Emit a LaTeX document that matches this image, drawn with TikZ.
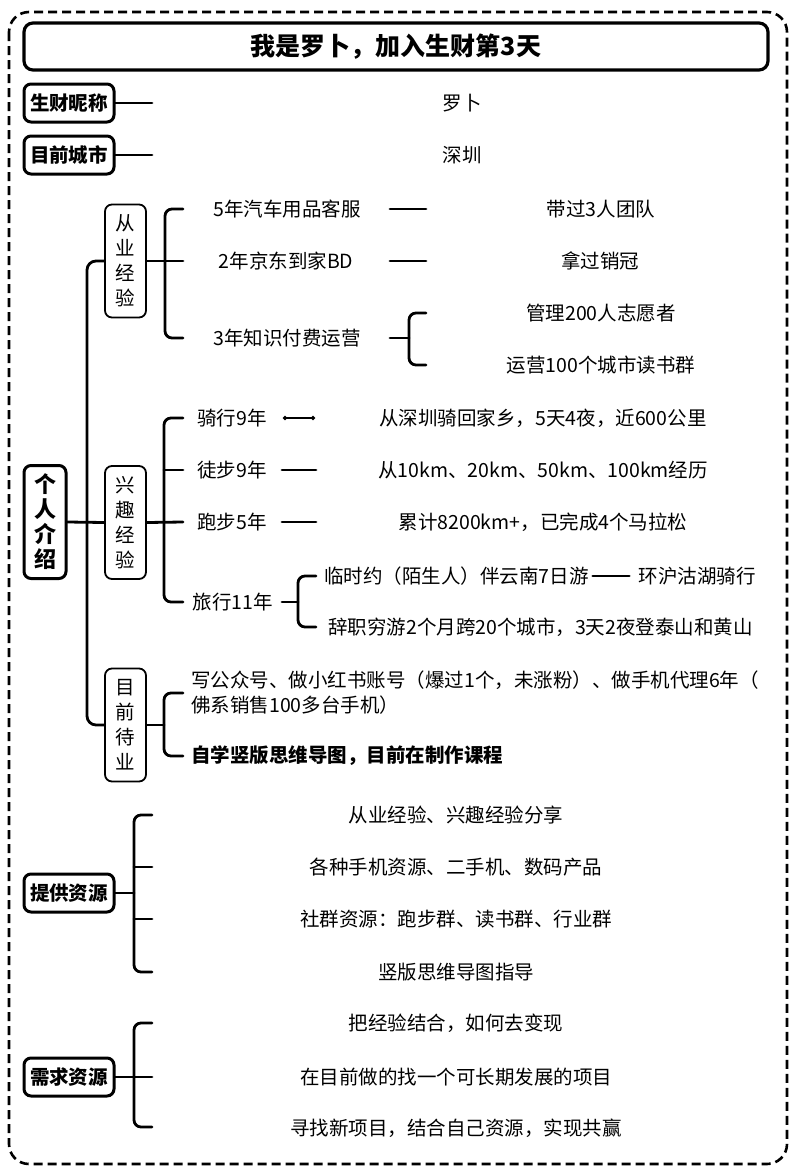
\documentclass[tikz,border=0pt]{standalone}
\usepackage{fontspec}
\setmainfont{Noto Sans CJK SC}
\usetikzlibrary{arrows.meta}
\tikzset{
  conn/.style={line width=2.8pt, line cap=round},
  brk/.style={conn, rounded corners=7pt},
  lbl/.style={font=\fontsize{19.5}{25}\selectfont, inner sep=1pt},
  titlebox/.style={draw, line width=3.2pt, rounded corners=9pt, minimum width=744pt, minimum height=47pt, font=\bfseries\fontsize{25}{28}\selectfont},
  hdr/.style={draw, line width=3pt, rounded corners=7pt, minimum width=90pt, minimum height=38pt, inner sep=0pt, font=\bfseries\fontsize{19.5}{22}\selectfont},
  hdrv/.style={draw, line width=3pt, rounded corners=7pt, minimum width=42pt, minimum height=113pt, inner sep=0pt, align=center, font=\bfseries\fontsize{22}{25}\selectfont},
  subbox/.style={draw, line width=1.8pt, rounded corners=7pt, minimum width=41pt, minimum height=113pt, inner sep=0pt, align=center, font=\fontsize{19.5}{25}\selectfont},
  dotted end/.style={conn, {Circle[length=4pt]}-{Circle[length=4pt]}},
}
\begin{document}
\begin{tikzpicture}[x=1pt,y=-1pt]
\useasboundingbox (0,0) rectangle (800,1175);
\draw[line width=2.6pt, dash pattern=on 9pt off 5pt, rounded corners=20pt] (9,12) rectangle (787,1164);

% title
\node[titlebox] (title) at (396,46.5) {我是罗卜，加入生财第3天};

% nickname & city
\node[hdr] (nick) at (69,103) {生财昵称};
\node[lbl] (nickv) at (462,103) {罗卜};
\coordinate (nickend) at (152,103);
\draw[conn] (nick.east) -- (nickend);
\node[hdr] (city) at (69,155) {目前城市};
\node[lbl] (cityv) at (462,155) {深圳};
\coordinate (cityend) at (152,155);
\draw[conn] (city.east) -- (cityend);

% personal intro
\node[hdrv] (intro) at (45,522) {个\\人\\介\\绍};
\node[subbox] (work) at (125.5,261) {从\\业\\经\\验};
\node[subbox] (hobby) at (125.5,522.5) {兴\\趣\\经\\验};
\node[subbox] (now) at (125.5,725) {目\\前\\待\\业};
\draw[conn, rounded corners=9pt] (work.west) -- (87,261) -- (87,725) -- (now.west);
\draw[conn] (intro.east) -- (hobby.west);

% work experience
\node[lbl] (w1) at (287,209) {5年汽车用品客服};
\node[lbl] (w2) at (286,261) {2年京东到家BD};
\node[lbl] (w3) at (287,338) {3年知识付费运营};
\node[lbl] (w1a) at (601,209) {带过3人团队};
\node[lbl] (w2a) at (600,261) {拿过销冠};
\node[lbl] (w3a) at (601,313) {管理200人志愿者};
\node[lbl] (w3b) at (601,365) {运营100个城市读书群};
\coordinate (wb1) at (183,209);
\coordinate (wb2) at (183,261);
\coordinate (wb3) at (183,338);
\draw[brk] (wb1) -- (165,209) -- (165,338) -- (wb3);
\draw[conn] (work.east) -- (wb2);
\coordinate (w1s) at (390,209); \coordinate (w1e) at (426,209);
\coordinate (w2s) at (390,261); \coordinate (w2e) at (426,261);
\draw[conn] (w1s) -- (w1e);
\draw[conn] (w2s) -- (w2e);
\coordinate (w3s) at (390,338); \coordinate (w3m) at (409,338);
\coordinate (w3t) at (426,313); \coordinate (w3u) at (426,365);
\draw[conn] (w3s) -- (w3m);
\draw[brk] (w3t) -- (409,313) -- (409,365) -- (w3u);

% hobbies
\node[lbl] (h1) at (232,418) {骑行9年};
\node[lbl] (h2) at (232,470) {徒步9年};
\node[lbl] (h3) at (232,522) {跑步5年};
\node[lbl] (h4) at (233,602) {旅行11年};
\node[lbl] (h1a) at (543,418) {从深圳骑回家乡，5天4夜，近600公里};
\node[lbl] (h2a) at (543,470) {从10km、20km、50km、100km经历};
\node[lbl] (h3a) at (543,522) {累计8200km+，已完成4个马拉松};
\node[lbl, anchor=west] (h4a) at (323,576) {临时约（陌生人）伴云南7日游};
\node[lbl] (h4a2) at (697,576) {环沪沽湖骑行};
\node[lbl, anchor=west] (h4b) at (327,627) {辞职穷游2个月跨20个城市，3天2夜登泰山和黄山};
\coordinate (hb1) at (183,418);
\coordinate (hb2) at (183,470);
\coordinate (hb3) at (183,522);
\coordinate (hb4) at (183,602);
\draw[brk] (hb1) -- (164,418) -- (164,602) -- (hb4);
\draw[conn] (164,470) -- (hb2);
\draw[conn] (hobby.east) -- (hb3);
\coordinate (h1s) at (283,418); \coordinate (h1e) at (315,418);
\draw[dotted end] (h1s) -- (h1e);
\coordinate (h2s) at (282,470); \coordinate (h2e) at (316,470);
\draw[conn] (h2s) -- (h2e);
\coordinate (h3s) at (282,522); \coordinate (h3e) at (316,522);
\draw[conn] (h3s) -- (h3e);
\coordinate (h4s) at (282,602); \coordinate (h4m) at (298,602);
\draw[conn] (h4s) -- (h4m);
\coordinate (h4t) at (316,576); \coordinate (h4u) at (316,627);
\draw[brk] (h4t) -- (298,576) -- (298,627) -- (h4u);
\draw[conn, shorten <=3pt, shorten >=8pt] (h4a.east) -- (h4a2.west);

% currently unemployed
\node[lbl, anchor=west, align=left] (n1) at (190,692.5) {写公众号、做小红书账号（爆过1个，未涨粉）、做手机代理6年（\\佛系销售100多台手机）};
\node[lbl, anchor=west, font=\bfseries\fontsize{19.5}{25}\selectfont] (n2) at (190,756) {自学竖版思维导图，目前在制作课程};
\coordinate (nb1) at (183,693);
\coordinate (nb2) at (183,756);
\draw[brk] (nb1) -- (164,693) -- (164,756) -- (nb2);
\draw[conn] (now.east) -- (164,725);

% provide resources
\node[hdr] (give) at (69,893) {提供资源};
\node[lbl] (g1) at (456,815) {从业经验、兴趣经验分享};
\node[lbl] (g2) at (456,867) {各种手机资源、二手机、数码产品};
\node[lbl] (g3) at (456,919) {社群资源：跑步群、读书群、行业群};
\node[lbl] (g4) at (456,972) {竖版思维导图指导};
\coordinate (gb1) at (152,815);
\coordinate (gb2) at (152,867);
\coordinate (gb3) at (152,919);
\coordinate (gb4) at (152,972);
\draw[brk] (gb1) -- (134,815) -- (134,972) -- (gb4);
\draw[conn] (134,867) -- (gb2);
\draw[conn] (134,919) -- (gb3);
\draw[conn] (give.east) -- (134,893);

% needed resources
\node[hdr] (need) at (69,1077) {需求资源};
\node[lbl] (d1) at (456,1023) {把经验结合，如何去变现};
\node[lbl] (d2) at (456,1077) {在目前做的找一个可长期发展的项目};
\node[lbl] (d3) at (456,1128) {寻找新项目，结合自己资源，实现共赢};
\coordinate (db1) at (152,1023);
\coordinate (db2) at (152,1077);
\coordinate (db3) at (152,1127);
\draw[brk] (db1) -- (134,1023) -- (134,1127) -- (db3);
\draw[conn] (need.east) -- (db2);
\end{tikzpicture}
\end{document}
